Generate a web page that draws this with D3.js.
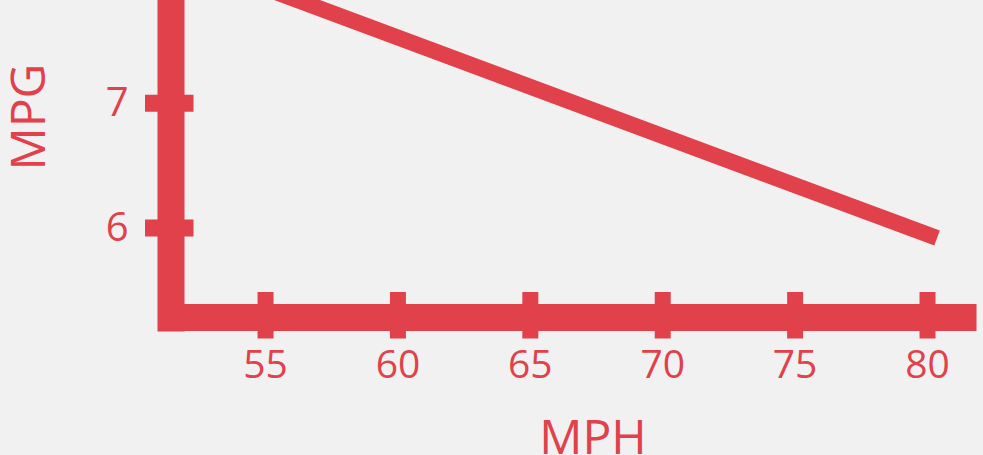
<!DOCTYPE html>
<html>
<head>
<meta charset="utf-8">
<script src="https://cdn.jsdelivr.net/npm/d3@7"></script>
<style>
  html, body { margin: 0; padding: 0; background: #f1f1f1; }
  svg { display: block; }
</style>
</head>
<body>
<svg id="chart" width="983" height="455"></svg>
<script>
// Data
const mph = [55, 80.38];
const mpg = [7.92, 5.915];
const xTicks = [55, 60, 65, 70, 75, 80];
const yTicks = [6, 7];
const xLabel = "MPH";
const yLabel = "MPG";

const color = "#e0414a";
const font = "'Open Sans', sans-serif";
const svg = d3.select("#chart");

const x = d3.scaleLinear().domain([51.43, 81.85]).range([170.5, 976]);
const y = d3.scaleLinear().domain([5.17, 8]).range([331, -21.9]);

const points = mph.map((m, i) => ({ mph: m, mpg: mpg[i] }));

// line
svg.append("path")
  .datum(points)
  .attr("fill", "none")
  .attr("stroke", color)
  .attr("stroke-width", 16)
  .attr("stroke-linecap", "butt")
  .attr("d", d3.line().x(d => x(d.mph)).y(d => y(d.mpg)));

// x axis
const gx = svg.append("g")
  .attr("transform", "translate(0,317)")
  .call(d3.axisBottom(x).tickValues(xTicks).tickSizeOuter(0).tickFormat(d3.format("d")));
gx.select(".domain").attr("stroke", color).attr("stroke-width", 27);
gx.selectAll(".tick line").attr("stroke", color).attr("stroke-width", 16).attr("y1", -25).attr("y2", 21.5);
gx.selectAll(".tick text")
  .attr("fill", color).attr("font-family", font).attr("font-size", 39)
  .attr("y", 61).attr("dy", 0);

// y axis
const gy = svg.append("g")
  .attr("transform", "translate(170.5,0)")
  .call(d3.axisLeft(y).tickValues(yTicks).tickSizeOuter(0).tickFormat(d3.format("d")));
gy.select(".domain").attr("stroke", color).attr("stroke-width", 27);
gy.selectAll(".tick line").attr("stroke", color).attr("stroke-width", 17).attr("x1", -25.5).attr("x2", 23);
gy.selectAll(".tick text")
  .attr("fill", color).attr("font-family", font).attr("font-size", 40)
  .attr("x", -42).attr("dy", "0.32em");

// axis titles
svg.append("text")
  .attr("x", 593).attr("y", 454)
  .attr("text-anchor", "middle")
  .attr("fill", color).attr("font-family", font).attr("font-size", 48)
  .text(xLabel);

svg.append("text")
  .attr("transform", "translate(45,117) rotate(-90)")
  .attr("text-anchor", "middle")
  .attr("fill", color).attr("font-family", font).attr("font-size", 48)
  .text(yLabel);
</script>
</body>
</html>
